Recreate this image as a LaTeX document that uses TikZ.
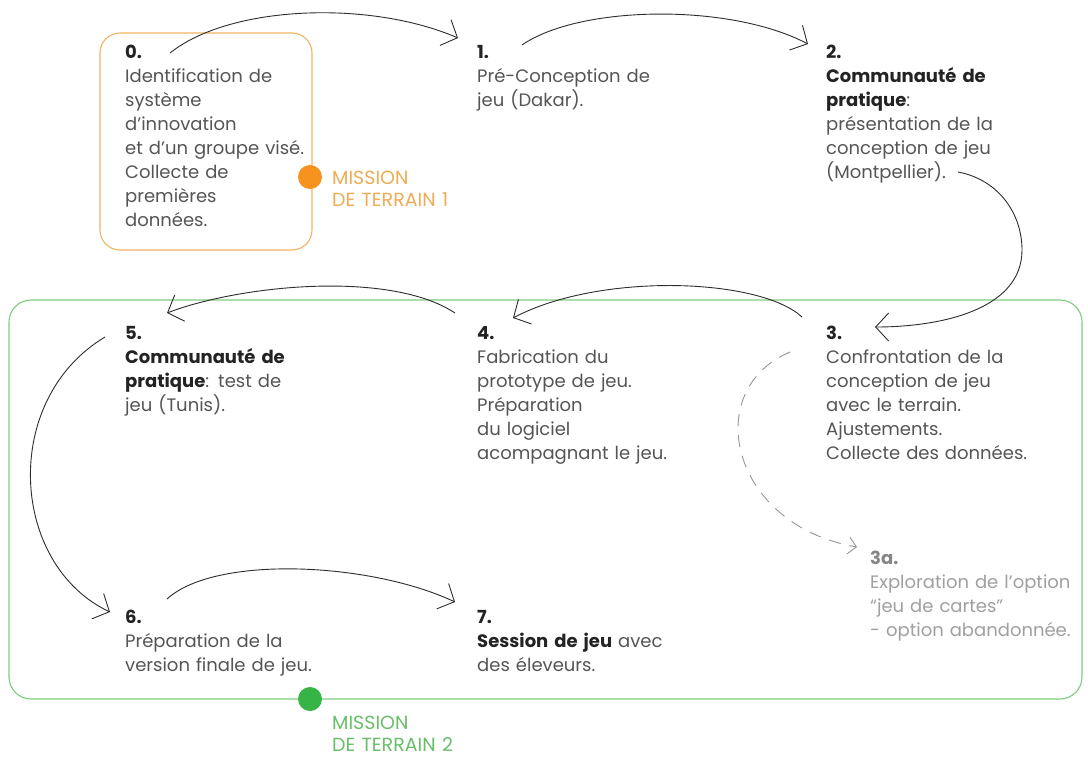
\documentclass[tikz,border=0pt]{standalone}
\usepackage{fontspec}
\setmainfont{Poppins}
\usetikzlibrary{arrows.meta}
\definecolor{txt}{RGB}{85,85,85}
\definecolor{num}{RGB}{35,35,35}
\definecolor{arr}{RGB}{45,45,45}
\definecolor{oline}{RGB}{242,180,100}
\definecolor{odot}{RGB}{246,146,30}
\definecolor{otext}{RGB}{238,172,85}
\definecolor{gline}{RGB}{125,205,125}
\definecolor{gdot}{RGB}{55,180,70}
\definecolor{gtext}{RGB}{105,190,105}
\definecolor{greyA}{RGB}{160,160,160}
\definecolor{greyN}{RGB}{135,135,135}
\definecolor{dash}{RGB}{150,150,150}
\begin{document}
\begin{tikzpicture}[x=1pt,y=-1pt,
  blk/.style={anchor=base west, inner sep=0pt, text width=260pt, align=left,
    font=\fontsize{18}{24}\selectfont, text=txt},
  mis/.style={anchor=base west, inner sep=0pt, text width=200pt, align=left,
    font=\fontsize{19}{22.5}\selectfont},
  conn/.style={draw=arr, line width=0.9pt, -{Straight Barb[length=13pt,width=28pt]}},
  dconn/.style={draw=dash, line width=0.9pt, dash pattern=on 12pt off 9pt,
    -{Straight Barb[length=8pt,width=17pt]}}
]
\useasboundingbox (0,0) rectangle (1088,758);
\fill[white] (0,0) rectangle (1088,758);

% frames
\draw[oline, line width=1.1pt, rounded corners=20pt] (100,33) rectangle (312,250);
\draw[gline, line width=1.1pt, rounded corners=22pt] (9,300) rectangle (1082,699);
\fill[odot] (310,177) circle (12pt);
\fill[gdot] (310,699) circle (12pt);

% text blocks
\node[blk] (n0) at (125,58) {{\bfseries\color{num}0.}\\Identification de\\système\\d’innovation\\et d’un groupe visé.\\Collecte de\\premières\\données.};
\node[blk] (n1) at (477,58) {{\bfseries\color{num}1.}\\Pré-Conception de\\jeu (Dakar).};
\node[blk] (n2) at (826,58) {{\bfseries\color{num}2.}\\{\bfseries\color{num}Communauté de}\\{\bfseries\color{num}pratique}:\\présentation de la\\conception de jeu\\(Montpellier).};
\node[blk] (n5) at (125,339) {{\bfseries\color{num}5.}\\{\bfseries\color{num}Communauté de}\\{\bfseries\color{num}pratique}: test de\\jeu (Tunis).};
\node[blk] (n4) at (477,339) {{\bfseries\color{num}4.}\\Fabrication du\\prototype de jeu.\\Préparation\\du logiciel\\acompagnant le jeu.};
\node[blk] (n3) at (826,339) {{\bfseries\color{num}3.}\\Confrontation de la\\conception de jeu\\avec le terrain.\\Ajustements.\\Collecte des données.};
\node[blk, text=greyA] (n3a) at (870,564) {{\bfseries\color{greyN}3a.}\\Exploration de l’option\\“jeu de cartes”\\- option abandonnée.};
\node[blk] (n6) at (125,623) {{\bfseries\color{num}6.}\\Préparation de la\\version finale de jeu.};
\node[blk] (n7) at (477,623) {{\bfseries\color{num}7.}\\{\bfseries\color{num}Session de jeu} avec\\des éleveurs.};
\node[mis, text=otext] (m1) at (332,184) {MISSION\\DE TERRAIN 1};
\node[mis, text=gtext] (m2) at (332,729) {MISSION\\DE TERRAIN 2};

% connector end points
\coordinate (s01) at (170,53);  \coordinate (e01) at (458,38);
\coordinate (s12) at (522,45);  \coordinate (e12) at (808,44);
\coordinate (s23) at (958,172); \coordinate (m23) at (1022,250); \coordinate (e23) at (875,327);
\coordinate (s34) at (802,317); \coordinate (e34) at (513,318);
\coordinate (s45) at (455,313); \coordinate (e45) at (167,313);
\coordinate (s56) at (105,337); \coordinate (e56) at (110,612);
\coordinate (s67) at (167,599); \coordinate (e67) at (455,602);
\coordinate (s3a) at (790,352); \coordinate (e3a) at (857,547);

\draw[conn] (s01) .. controls (230,5) and (370,0) .. (e01);
\draw[conn] (s12) .. controls (580,5) and (730,3) .. (e12);
\draw[conn] (s23) .. controls (1000,180) and (1022,215) .. (m23)
               .. controls (1022,310) and (940,327) .. (e23);
\draw[conn] (s34) .. controls (760,278) and (600,272) .. (e34);
\draw[conn] (s45) .. controls (390,270) and (240,285) .. (e45);
\draw[conn] (s56) .. controls (0,400) and (10,565) .. (e56);
\draw[conn] (s67) .. controls (215,555) and (370,562) .. (e67);
\draw[dconn] (s3a) .. controls (700,390) and (730,525) .. (e3a);
\end{tikzpicture}
\end{document}
